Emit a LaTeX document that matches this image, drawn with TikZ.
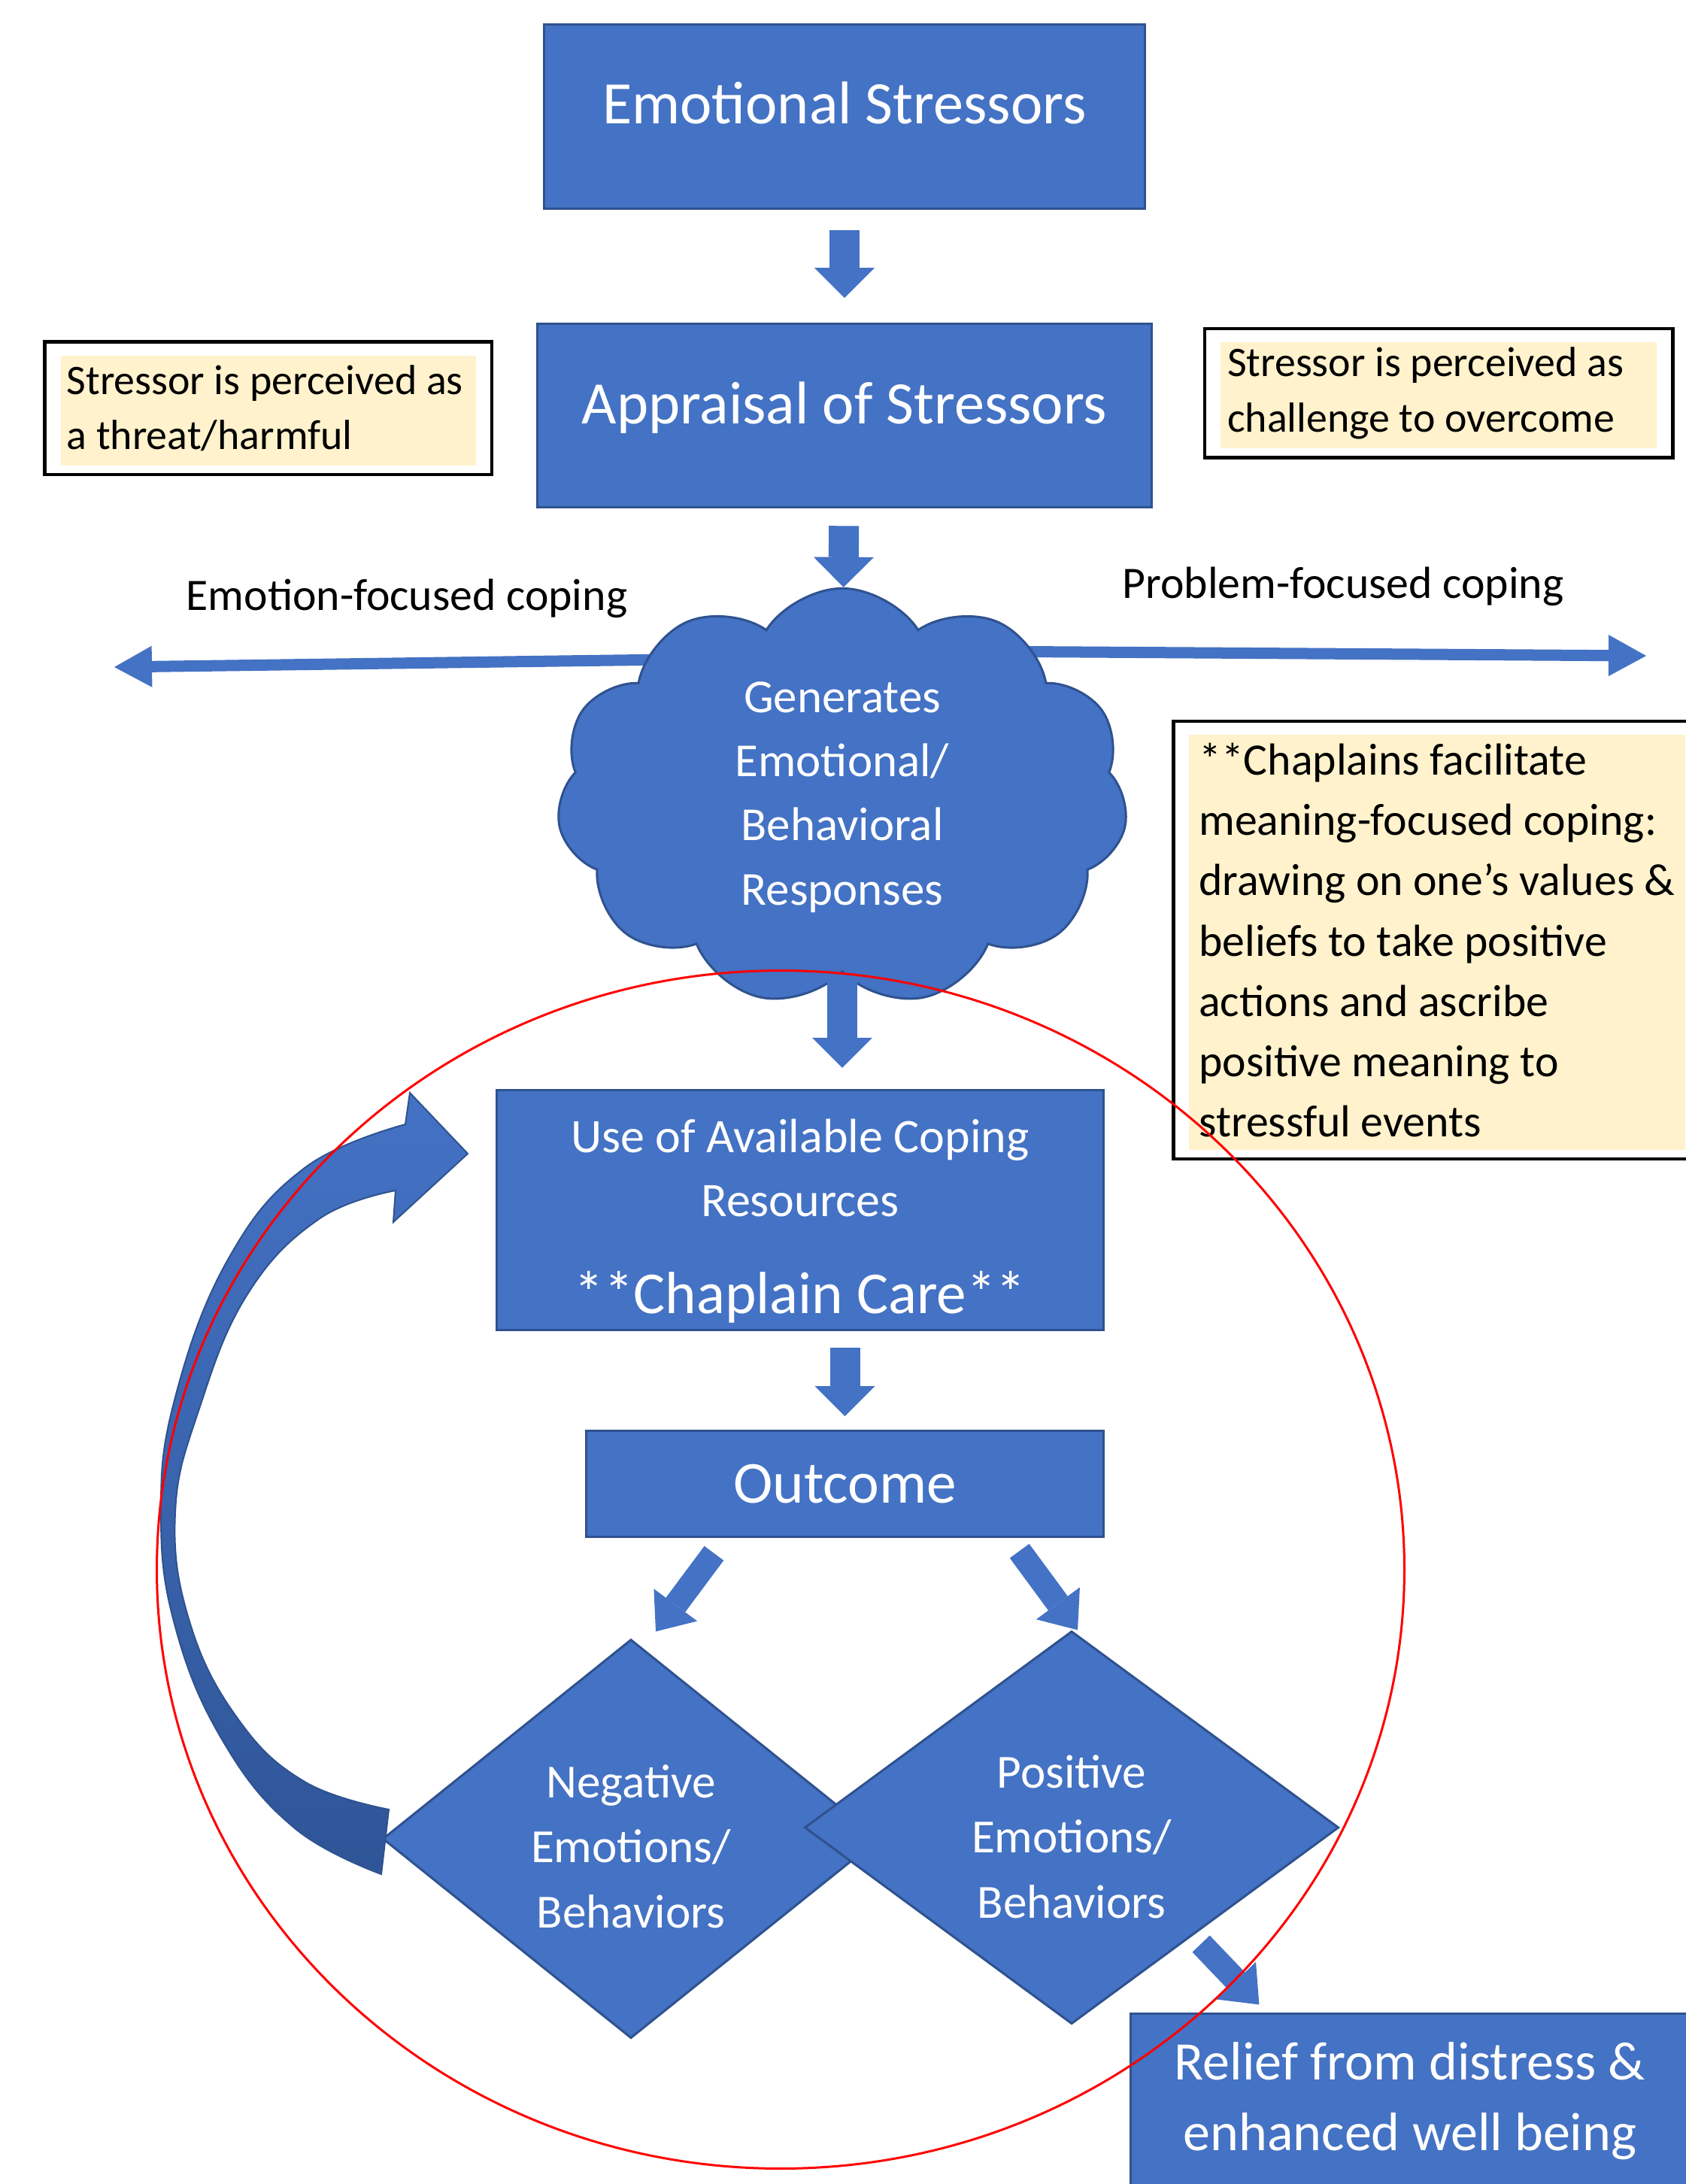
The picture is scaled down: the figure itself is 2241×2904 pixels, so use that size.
\documentclass[tikz,border=0pt]{standalone}
\usepackage{fontspec}
\setmainfont{Carlito}
\usetikzlibrary{arrows.meta,positioning,shapes.geometric,shapes.symbols,backgrounds}
\definecolor{mainblue}{HTML}{4472C4}
\definecolor{edgeblue}{HTML}{2F528F}
\definecolor{deepblue}{HTML}{2F5597}
\definecolor{notefill}{HTML}{FFF2CC}
\newcommand{\setfs}[2]{\fontsize{#1}{#2}\selectfont}

\begin{document}
\begin{tikzpicture}[
    x=0.01cm, y=-0.01cm,
    bluebox/.style={rectangle, draw=edgeblue, line width=0.03cm, fill=mainblue,
    text=white, align=center, inner sep=0pt},
    notebox/.style={rectangle, draw=black, line width=0.045cm, align=flush left, inner ysep=0pt,
    path picture={\fill[notefill] ([xshift=0.21cm,yshift=0.12cm]path picture bounding box.south west)
    rectangle ([xshift=-0.21cm,yshift=-0.18cm]path picture bounding box.north east);}},
    decision/.style={diamond, draw=edgeblue, line width=0.03cm, fill=mainblue, text=white,
    align=center, inner sep=0pt, text depth=0cm, font=\setfs{18pt}{24.5pt}},
    blockarrow/.style={draw=mainblue, line width=0.4cm,
    -{Triangle[width=0.8cm,length=0.4cm,line width=0pt]}},
    slantarrow/.style={draw=mainblue, line width=0.32cm,
    -{Triangle[width=0.72cm,length=0.44cm,line width=0pt]}},
    coparrow/.style={draw=mainblue, line width=0.15cm,
    -{Triangle[width=0.55cm,length=0.5cm,line width=0pt]}}
]
\useasboundingbox (0,0) rectangle (2241,2904);

% main column
\node[bluebox, minimum width=7.98cm, minimum height=2.45cm, text height=0.2cm, text depth=0cm,
    font=\setfs{22.8pt}{27pt}] (es) at (1123,155) {Emotional Stressors};
\node[bluebox, minimum width=8.16cm, minimum height=2.44cm, text height=0.22cm, text depth=0cm,
    font=\setfs{22.8pt}{27pt}, below=1.5cm of es] (ap) {Appraisal of Stressors};
\node[notebox, text width=5.36cm, inner xsep=0.29cm, minimum height=1.76cm, font=\setfs{15.9pt}{21pt},
    left=0.57cm of ap, yshift=0.1cm] (thr) {Stressor is perceived as\\a threat/harmful};
\node[notebox, text width=5.62cm, inner xsep=0.3cm, minimum height=1.71cm, font=\setfs{15.9pt}{21pt},
    right=0.67cm of ap, yshift=0.3cm] (chl) {Stressor is perceived as\\challenge to overcome};
\node[cloud, cloud puffs=11, cloud puff arc=115, cloud ignores aspect, minimum width=7.59cm, minimum height=5.55cm,
    draw=edgeblue, line width=0.03cm, fill=mainblue, text=white, align=center,
    font=\setfs{17.9pt}{24.2pt}] (cld) at (1120,1060) {Generates\\Emotional/\\Behavioral\\Responses};
\node[font=\setfs{17pt}{20pt}] (efc) at (541,796) {Emotion-focused coping};
\node[font=\setfs{17pt}{20pt}] (pfc) at (1786,780) {Problem-focused coping};
\coordinate (eftip) at (152,887);
\coordinate (pftip) at (2189,872);
\node[notebox, inner xsep=0pt, minimum width=7.01cm, minimum height=5.82cm, font=\setfs{17pt}{22.8pt}]
    (mfc) at (1911,1250) {**Chaplains facilitate\\meaning-focused coping:\\drawing on one’s values \&\\beliefs to take positive\\actions and ascribe\\positive meaning to\\stressful events};
\node[bluebox, minimum width=8.06cm, minimum height=3.19cm, text height=2.74cm, text depth=0cm,
    font=\setfs{18.2pt}{23.9pt}] (cr) at (1064,1609) {Use of Available Coping\\Resources\\[0.45cm]{\setfs{22.5pt}{27pt}**Chaplain Care**}};
\node[bluebox, minimum width=6.87cm, minimum height=1.41cm, font=\setfs{22.5pt}{27pt},
    below=1.31cm of cr.south east, anchor=north east] (oc) {Outcome};
\node[decision, minimum width=6.6cm, minimum height=5.3cm, text height=2.36cm] (neg) at (839,2445) {Negative\\Emotions/\\Behaviors};
\node[decision, minimum width=7.1cm, minimum height=5.22cm, text height=2.4cm] (pos) at (1425,2430) {Positive\\Emotions/\\Behaviors};
\node[bluebox, minimum width=7.42cm, minimum height=2.32cm, font=\setfs{20.5pt}{26.7pt}] (rel) at (1875,2794) {Relief from distress \&\\enhanced well being};

% connectors
\draw[blockarrow, shorten <=0.27cm, shorten >=0.33cm] (es) -- (ap);
\draw[blockarrow, shorten <=0.23cm] (ap) -- (cld);
\draw[blockarrow, shorten >=0.28cm] (cld.south) -- (cld.south |- cr.north);
\draw[blockarrow, shorten <=0.22cm, shorten >=0.18cm] (oc.north |- cr.south) -- (oc.north);
\draw[slantarrow] ([xshift=-1.74cm,yshift=-0.2cm]oc.south) -- ([xshift=0.33cm,yshift=0.09cm]neg.north);
\draw[slantarrow] ([xshift=2.32cm,yshift=-0.17cm]oc.south) -- ([xshift=0.08cm]pos.north);
\draw[slantarrow] ([xshift=1.72cm,yshift=1.08cm]pos.south) -- ([xshift=1.72cm,yshift=0.11cm]rel.north west);
\begin{scope}[on background layer]
\draw[coparrow] ([yshift=1.86cm]cld.center) -- (eftip);
\draw[coparrow] ([yshift=1.95cm]cld.center) -- (pftip);
\end{scope}

% feedback arrow from negative outcome back to coping resources
\shade[top color=mainblue, bottom color=deepblue, draw=edgeblue, line width=0.02cm]
    plot[smooth, tension=0.7] coordinates {(539,1495) (405,1553) (303,1675) (233,1858) (214,2011) (233,2163) (297,2316) (392,2431) (507,2492)}
    -- plot[smooth, tension=0.7] coordinates {(517,2406) (405,2369) (316,2285) (252,2156) (233,2011) (265,1873) (329,1721) (424,1621) (526,1583)}
    -- (523,1625) -- (622,1534) -- (545,1453) -- cycle;

\draw[red, line width=0.03cm] (1038,2087) ellipse [x radius=8.29cm, y radius=7.96cm];
\end{tikzpicture}
\end{document}
